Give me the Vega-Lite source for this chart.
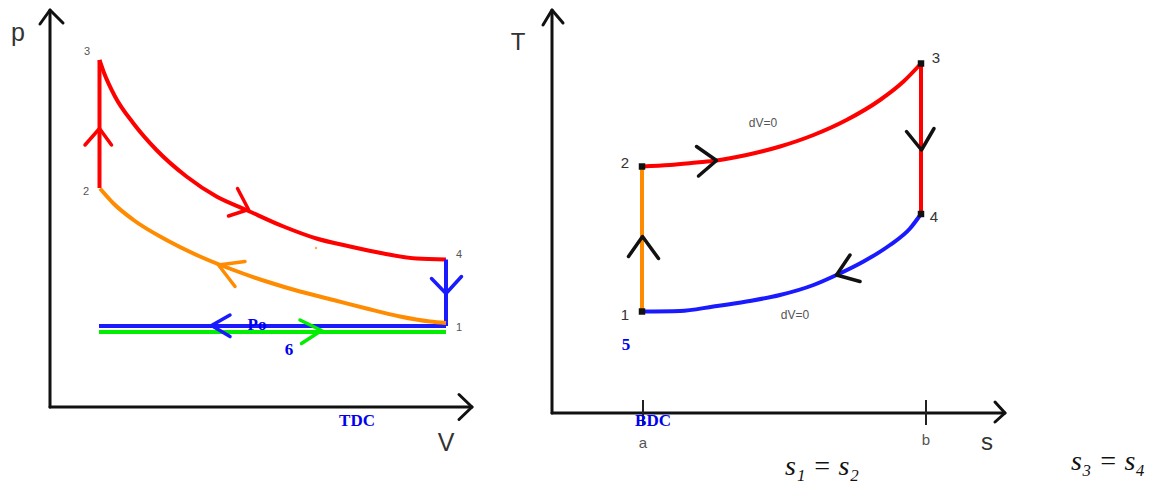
{
  "$schema": "https://vega.github.io/schema/vega-lite/v6.json",
  "autosize": {"type": "fit", "contains": "padding"},
  "width": 1153,
  "height": 483,
  "padding": 0,
  "background": "white",
  "config": {"view": {"stroke": null}},
  "datasets": {
    "pv": [
      {"id": "ay", "k": "axis", "c": "axis", "V": 0, "p": 0},
      {"id": "ay", "k": "axis", "c": "axis", "V": 0, "p": 7.94},
      {"id": "ax", "k": "axis", "c": "axis", "V": 0, "p": 0},
      {"id": "ax", "k": "axis", "c": "axis", "V": 8.44, "p": 0},
      {"id": "ayh", "k": "axis", "c": "axis", "V": -0.2, "p": 7.66},
      {"id": "ayh", "k": "axis", "c": "axis", "V": 0, "p": 7.94},
      {"id": "ayh", "k": "axis", "c": "axis", "V": 0.26, "p": 7.68},
      {"id": "axh", "k": "axis", "c": "axis", "V": 8.18, "p": 0.25},
      {"id": "axh", "k": "axis", "c": "axis", "V": 8.44, "p": 0},
      {"id": "axh", "k": "axis", "c": "axis", "V": 8.18, "p": -0.25},
      {"id": "c16", "k": "curve", "c": "intake", "V": 0.98, "p": 1.5},
      {"id": "c16", "k": "curve", "c": "intake", "V": 7.92, "p": 1.5},
      {"id": "c61", "k": "curve", "c": "exhaust", "V": 0.98, "p": 1.62},
      {"id": "c61", "k": "curve", "c": "exhaust", "V": 7.92, "p": 1.62},
      {"id": "c23", "k": "curve", "c": "heat", "V": 0.99, "p": 4.38},
      {"id": "c23", "k": "curve", "c": "heat", "V": 0.99, "p": 6.94},
      {"id": "c34", "k": "curve", "c": "heat", "V": 0.99, "p": 6.94},
      {"id": "c34", "k": "curve", "c": "heat", "V": 1.07, "p": 6.71},
      {"id": "c34", "k": "curve", "c": "heat", "V": 1.3, "p": 6.21},
      {"id": "c34", "k": "curve", "c": "heat", "V": 1.67, "p": 5.67},
      {"id": "c34", "k": "curve", "c": "heat", "V": 2.13, "p": 5.14},
      {"id": "c34", "k": "curve", "c": "heat", "V": 2.73, "p": 4.61},
      {"id": "c34", "k": "curve", "c": "heat", "V": 3.33, "p": 4.21},
      {"id": "c34", "k": "curve", "c": "heat", "V": 3.93, "p": 3.94},
      {"id": "c34", "k": "curve", "c": "heat", "V": 4.67, "p": 3.61},
      {"id": "c34", "k": "curve", "c": "heat", "V": 5.33, "p": 3.37},
      {"id": "c34", "k": "curve", "c": "heat", "V": 6.0, "p": 3.21},
      {"id": "c34", "k": "curve", "c": "heat", "V": 6.67, "p": 3.07},
      {"id": "c34", "k": "curve", "c": "heat", "V": 7.33, "p": 2.97},
      {"id": "c34", "k": "curve", "c": "heat", "V": 7.92, "p": 2.95},
      {"id": "c41", "k": "curve", "c": "exhaust", "V": 7.92, "p": 2.95},
      {"id": "c41", "k": "curve", "c": "exhaust", "V": 7.92, "p": 1.62},
      {"id": "c12", "k": "curve", "c": "compress", "V": 1.0, "p": 4.37},
      {"id": "c12", "k": "curve", "c": "compress", "V": 1.27, "p": 4.07},
      {"id": "c12", "k": "curve", "c": "compress", "V": 1.67, "p": 3.74},
      {"id": "c12", "k": "curve", "c": "compress", "V": 2.33, "p": 3.34},
      {"id": "c12", "k": "curve", "c": "compress", "V": 3.0, "p": 3.01},
      {"id": "c12", "k": "curve", "c": "compress", "V": 3.67, "p": 2.74},
      {"id": "c12", "k": "curve", "c": "compress", "V": 4.33, "p": 2.51},
      {"id": "c12", "k": "curve", "c": "compress", "V": 5.0, "p": 2.31},
      {"id": "c12", "k": "curve", "c": "compress", "V": 5.67, "p": 2.14},
      {"id": "c12", "k": "curve", "c": "compress", "V": 6.33, "p": 1.97},
      {"id": "c12", "k": "curve", "c": "compress", "V": 7.0, "p": 1.81},
      {"id": "c12", "k": "curve", "c": "compress", "V": 7.6, "p": 1.71},
      {"id": "c12", "k": "curve", "c": "compress", "V": 7.92, "p": 1.68},
      {"id": "a23", "k": "arrow", "c": "heat", "V": 0.7, "p": 5.24},
      {"id": "a23", "k": "arrow", "c": "heat", "V": 0.99, "p": 5.57},
      {"id": "a23", "k": "arrow", "c": "heat", "V": 1.23, "p": 5.24},
      {"id": "a34", "k": "arrow", "c": "heat", "V": 3.75, "p": 4.37},
      {"id": "a34", "k": "arrow", "c": "heat", "V": 3.97, "p": 3.95},
      {"id": "a34", "k": "arrow", "c": "heat", "V": 3.57, "p": 3.82},
      {"id": "a12", "k": "arrow", "c": "compress", "V": 3.9, "p": 2.91},
      {"id": "a12", "k": "arrow", "c": "compress", "V": 3.37, "p": 2.84},
      {"id": "a12", "k": "arrow", "c": "compress", "V": 3.7, "p": 2.41},
      {"id": "a41", "k": "arrow", "c": "exhaust", "V": 7.63, "p": 2.57},
      {"id": "a41", "k": "arrow", "c": "exhaust", "V": 7.92, "p": 2.27},
      {"id": "a41", "k": "arrow", "c": "exhaust", "V": 8.23, "p": 2.61},
      {"id": "a61", "k": "arrow", "c": "exhaust", "V": 3.6, "p": 1.84},
      {"id": "a61", "k": "arrow", "c": "exhaust", "V": 3.23, "p": 1.63},
      {"id": "a61", "k": "arrow", "c": "exhaust", "V": 3.6, "p": 1.41},
      {"id": "a16", "k": "arrow", "c": "intake", "V": 5.0, "p": 1.74},
      {"id": "a16", "k": "arrow", "c": "intake", "V": 5.43, "p": 1.53},
      {"id": "a16", "k": "arrow", "c": "intake", "V": 5.03, "p": 1.27}
    ],
    "pvText": [
      {"label": "3", "role": "state", "V": 0.74, "p": 7.1},
      {"label": "2", "role": "state", "V": 0.72, "p": 4.3},
      {"label": "4", "role": "state", "V": 8.18, "p": 3.04},
      {"label": "1", "role": "state", "V": 8.18, "p": 1.58},
      {"label": "p", "role": "axisname", "V": -0.64, "p": 7.48},
      {"label": "V", "role": "axisname", "V": 7.92, "p": -0.72},
      {"label": "Po", "role": "note", "V": 4.14, "p": 1.64},
      {"label": "6", "role": "note", "V": 4.78, "p": 1.14},
      {"label": "TDC", "role": "note", "V": 6.14, "p": -0.28}
    ],
    "pvDot": [{"V": 5.32, "p": 3.18}],
    "ts": [
      {"id": "ay", "k": "axis", "c": "axis", "s": 0, "T": 0},
      {"id": "ay", "k": "axis", "c": "axis", "s": 0, "T": 8.06},
      {"id": "ax", "k": "axis", "c": "axis", "s": 0, "T": 0},
      {"id": "ax", "k": "axis", "c": "axis", "s": 9.06, "T": 0},
      {"id": "ayh", "k": "axis", "c": "axis", "s": -0.18, "T": 7.76},
      {"id": "ayh", "k": "axis", "c": "axis", "s": 0, "T": 8.06},
      {"id": "ayh", "k": "axis", "c": "axis", "s": 0.22, "T": 7.8},
      {"id": "axh", "k": "axis", "c": "axis", "s": 8.86, "T": 0.22},
      {"id": "axh", "k": "axis", "c": "axis", "s": 9.06, "T": 0},
      {"id": "axh", "k": "axis", "c": "axis", "s": 8.86, "T": -0.18},
      {"id": "ta", "k": "tick", "c": "axis", "s": 1.82, "T": 0.26},
      {"id": "ta", "k": "tick", "c": "axis", "s": 1.82, "T": -0.24},
      {"id": "tb", "k": "tick", "c": "axis", "s": 7.48, "T": 0.26},
      {"id": "tb", "k": "tick", "c": "axis", "s": 7.48, "T": -0.24},
      {"id": "c12", "k": "curve", "c": "compress", "s": 1.8, "T": 2.03},
      {"id": "c12", "k": "curve", "c": "compress", "s": 1.8, "T": 4.93},
      {"id": "c23", "k": "curve", "c": "heat", "s": 1.8, "T": 4.93},
      {"id": "c23", "k": "curve", "c": "heat", "s": 2.36, "T": 4.96},
      {"id": "c23", "k": "curve", "c": "heat", "s": 2.89, "T": 5.01},
      {"id": "c23", "k": "curve", "c": "heat", "s": 3.29, "T": 5.05},
      {"id": "c23", "k": "curve", "c": "heat", "s": 3.89, "T": 5.16},
      {"id": "c23", "k": "curve", "c": "heat", "s": 4.56, "T": 5.33},
      {"id": "c23", "k": "curve", "c": "heat", "s": 5.23, "T": 5.56},
      {"id": "c23", "k": "curve", "c": "heat", "s": 5.89, "T": 5.86},
      {"id": "c23", "k": "curve", "c": "heat", "s": 6.56, "T": 6.26},
      {"id": "c23", "k": "curve", "c": "heat", "s": 7.03, "T": 6.63},
      {"id": "c23", "k": "curve", "c": "heat", "s": 7.38, "T": 6.99},
      {"id": "c34", "k": "curve", "c": "heat", "s": 7.38, "T": 6.99},
      {"id": "c34", "k": "curve", "c": "heat", "s": 7.38, "T": 3.98},
      {"id": "c41", "k": "curve", "c": "exhaust", "s": 1.8, "T": 2.03},
      {"id": "c41", "k": "curve", "c": "exhaust", "s": 2.56, "T": 2.04},
      {"id": "c41", "k": "curve", "c": "exhaust", "s": 3.23, "T": 2.13},
      {"id": "c41", "k": "curve", "c": "exhaust", "s": 3.89, "T": 2.23},
      {"id": "c41", "k": "curve", "c": "exhaust", "s": 4.56, "T": 2.36},
      {"id": "c41", "k": "curve", "c": "exhaust", "s": 5.23, "T": 2.56},
      {"id": "c41", "k": "curve", "c": "exhaust", "s": 5.69, "T": 2.76},
      {"id": "c41", "k": "curve", "c": "exhaust", "s": 6.23, "T": 3.03},
      {"id": "c41", "k": "curve", "c": "exhaust", "s": 6.76, "T": 3.36},
      {"id": "c41", "k": "curve", "c": "exhaust", "s": 7.16, "T": 3.69},
      {"id": "c41", "k": "curve", "c": "exhaust", "s": 7.38, "T": 3.98},
      {"id": "a23", "k": "arrow", "c": "arrow", "s": 2.89, "T": 5.33},
      {"id": "a23", "k": "arrow", "c": "arrow", "s": 3.29, "T": 5.05},
      {"id": "a23", "k": "arrow", "c": "arrow", "s": 2.93, "T": 4.74},
      {"id": "a34", "k": "arrow", "c": "arrow", "s": 7.09, "T": 5.63},
      {"id": "a34", "k": "arrow", "c": "arrow", "s": 7.39, "T": 5.26},
      {"id": "a34", "k": "arrow", "c": "arrow", "s": 7.64, "T": 5.69},
      {"id": "a41", "k": "arrow", "c": "arrow", "s": 5.96, "T": 3.16},
      {"id": "a41", "k": "arrow", "c": "arrow", "s": 5.69, "T": 2.76},
      {"id": "a41", "k": "arrow", "c": "arrow", "s": 6.16, "T": 2.63},
      {"id": "a12", "k": "arrow", "c": "arrow", "s": 1.53, "T": 3.13},
      {"id": "a12", "k": "arrow", "c": "arrow", "s": 1.81, "T": 3.53},
      {"id": "a12", "k": "arrow", "c": "arrow", "s": 2.13, "T": 3.09}
    ],
    "tsPts": [
      {"state": "1", "s": 1.8, "T": 2.03},
      {"state": "2", "s": 1.8, "T": 4.93},
      {"state": "3", "s": 7.38, "T": 6.99},
      {"state": "4", "s": 7.38, "T": 3.98}
    ],
    "tsText": [
      {"label": "3", "role": "state", "s": 7.68, "T": 7.1},
      {"label": "4", "role": "state", "s": 7.64, "T": 3.92},
      {"label": "2", "role": "state", "s": 1.46, "T": 5.0},
      {"label": "1", "role": "state", "s": 1.46, "T": 1.96},
      {"label": "T", "role": "axisname", "s": -0.68, "T": 7.4},
      {"label": "s", "role": "axisname", "s": 8.7, "T": -0.6},
      {"label": "a", "role": "tick", "s": 1.82, "T": -0.6},
      {"label": "b", "role": "tick", "s": 7.48, "T": -0.54},
      {"label": "dV=0", "role": "dv", "s": 4.22, "T": 5.8},
      {"label": "dV=0", "role": "dv", "s": 4.86, "T": 1.96},
      {"label": "5", "role": "note", "s": 1.48, "T": 1.36},
      {"label": "BDC", "role": "note", "s": 2.02, "T": -0.16},
      {"label": "s₁ = s₂", "role": "eq", "s": 5.4, "T": -1.08},
      {"label": "s₃ = s₄", "role": "eq", "s": 11.12, "T": -0.98}
    ]
  },
  "resolve": {"scale": {"x": "independent", "y": "independent"}},
  "layer": [
    {
      "encoding": {
        "x": {"field": "V", "type": "quantitative", "scale": {"domain": [-1, 22.06], "nice": false, "zero": false}, "axis": null},
        "y": {"field": "p", "type": "quantitative", "scale": {"domain": [-1.52, 8.14], "nice": false, "zero": false}, "axis": null}
      },
      "layer": [
        {
          "data": {"name": "pv"},
          "transform": [{"filter": "datum.k === 'axis'"}],
          "mark": {"type": "line", "strokeWidth": 3, "strokeCap": "round", "strokeJoin": "round", "color": "#111111"},
          "encoding": {"detail": {"field": "id"}, "order": {"value": null}}
        },
        {
          "data": {"name": "pv"},
          "transform": [{"filter": "datum.k === 'curve'"}],
          "mark": {"type": "line", "strokeWidth": 4, "strokeCap": "butt", "strokeJoin": "round", "interpolate": "monotone"},
          "encoding": {
            "detail": {"field": "id"},
            "order": {"value": null},
            "color": {"field": "c", "type": "nominal", "legend": null, "scale": {"domain": ["heat", "compress", "exhaust", "intake", "arrow"], "range": ["#ff0000", "#ff8c00", "#1a1aff", "#00ee00", "#111111"]}}
          }
        },
        {
          "data": {"name": "pvDot"},
          "mark": {"type": "circle", "size": 6, "color": "#ff9933", "opacity": 0.8}
        },
        {
          "data": {"name": "pv"},
          "transform": [{"filter": "datum.k === 'arrow'"}],
          "mark": {"type": "line", "strokeWidth": 3.5, "strokeCap": "round", "strokeJoin": "round"},
          "encoding": {
            "detail": {"field": "id"},
            "order": {"value": null},
            "color": {"field": "c", "type": "nominal", "legend": null, "scale": {"domain": ["heat", "compress", "exhaust", "intake", "arrow"], "range": ["#ff0000", "#ff8c00", "#1a1aff", "#00ee00", "#111111"]}}
          }
        },
        {
          "data": {"name": "pvText"},
          "transform": [{"filter": "datum.role === 'state'"}],
          "mark": {"type": "text", "font": "Liberation Sans", "fontSize": 11, "color": "#555555", "align": "center", "baseline": "middle"},
          "encoding": {"text": {"field": "label"}}
        },
        {
          "data": {"name": "pvText"},
          "transform": [{"filter": "datum.role === 'axisname'"}],
          "mark": {"type": "text", "font": "Liberation Sans", "fontSize": 25, "color": "#333333", "align": "center", "baseline": "middle"},
          "encoding": {"text": {"field": "label"}}
        },
        {
          "data": {"name": "pvText"},
          "transform": [{"filter": "datum.role === 'note'"}],
          "mark": {"type": "text", "font": "Liberation Serif", "fontWeight": "bold", "fontSize": 17, "color": "#0000ee", "align": "center", "baseline": "middle"},
          "encoding": {"text": {"field": "label"}}
        }
      ]
    },
    {
      "encoding": {
        "x": {"field": "s", "type": "quantitative", "scale": {"domain": [-11.04, 12.02], "nice": false, "zero": false}, "axis": null},
        "y": {"field": "T", "type": "quantitative", "scale": {"domain": [-1.4, 8.26], "nice": false, "zero": false}, "axis": null}
      },
      "layer": [
        {
          "data": {"name": "ts"},
          "transform": [{"filter": "datum.k === 'axis'"}],
          "mark": {"type": "line", "strokeWidth": 3, "strokeCap": "round", "strokeJoin": "round", "color": "#111111"},
          "encoding": {"detail": {"field": "id"}, "order": {"value": null}}
        },
        {
          "data": {"name": "ts"},
          "transform": [{"filter": "datum.k === 'tick'"}],
          "mark": {"type": "line", "strokeWidth": 2, "strokeCap": "butt", "color": "#222222"},
          "encoding": {"detail": {"field": "id"}, "order": {"value": null}}
        },
        {
          "data": {"name": "ts"},
          "transform": [{"filter": "datum.k === 'curve'"}],
          "mark": {"type": "line", "strokeWidth": 4, "strokeCap": "butt", "strokeJoin": "round", "interpolate": "monotone"},
          "encoding": {
            "detail": {"field": "id"},
            "order": {"value": null},
            "color": {"field": "c", "type": "nominal", "legend": null, "scale": {"domain": ["heat", "compress", "exhaust", "intake", "arrow"], "range": ["#ff0000", "#ff8c00", "#1a1aff", "#00ee00", "#111111"]}}
          }
        },
        {
          "data": {"name": "ts"},
          "transform": [{"filter": "datum.k === 'arrow'"}],
          "mark": {"type": "line", "strokeWidth": 3.5, "strokeCap": "round", "strokeJoin": "round"},
          "encoding": {
            "detail": {"field": "id"},
            "order": {"value": null},
            "color": {"field": "c", "type": "nominal", "legend": null, "scale": {"domain": ["heat", "compress", "exhaust", "intake", "arrow"], "range": ["#ff0000", "#ff8c00", "#1a1aff", "#00ee00", "#111111"]}}
          }
        },
        {
          "data": {"name": "tsPts"},
          "mark": {"type": "square", "size": 42, "color": "#111111", "opacity": 1}
        },
        {
          "data": {"name": "tsText"},
          "transform": [{"filter": "datum.role === 'state'"}],
          "mark": {"type": "text", "font": "Liberation Sans", "fontSize": 15, "color": "#333333", "align": "center", "baseline": "middle"},
          "encoding": {"text": {"field": "label"}}
        },
        {
          "data": {"name": "tsText"},
          "transform": [{"filter": "datum.role === 'axisname'"}],
          "mark": {"type": "text", "font": "Liberation Sans", "fontSize": 24, "color": "#333333", "align": "center", "baseline": "middle"},
          "encoding": {"text": {"field": "label"}}
        },
        {
          "data": {"name": "tsText"},
          "transform": [{"filter": "datum.role === 'tick'"}],
          "mark": {"type": "text", "font": "Liberation Sans", "fontSize": 15, "color": "#555555", "align": "center", "baseline": "middle"},
          "encoding": {"text": {"field": "label"}}
        },
        {
          "data": {"name": "tsText"},
          "transform": [{"filter": "datum.role === 'dv'"}],
          "mark": {"type": "text", "font": "Liberation Sans", "fontSize": 12, "color": "#555555", "align": "center", "baseline": "middle"},
          "encoding": {"text": {"field": "label"}}
        },
        {
          "data": {"name": "tsText"},
          "transform": [{"filter": "datum.role === 'note'"}],
          "mark": {"type": "text", "font": "Liberation Serif", "fontWeight": "bold", "fontSize": 17, "color": "#0000ee", "align": "center", "baseline": "middle"},
          "encoding": {"text": {"field": "label"}}
        },
        {
          "data": {"name": "tsText"},
          "transform": [{"filter": "datum.role === 'eq'"}],
          "mark": {"type": "text", "font": "Liberation Serif", "fontStyle": "italic", "fontSize": 28, "color": "#111111", "align": "center", "baseline": "middle"},
          "encoding": {"text": {"field": "label"}}
        }
      ]
    }
  ]
}
